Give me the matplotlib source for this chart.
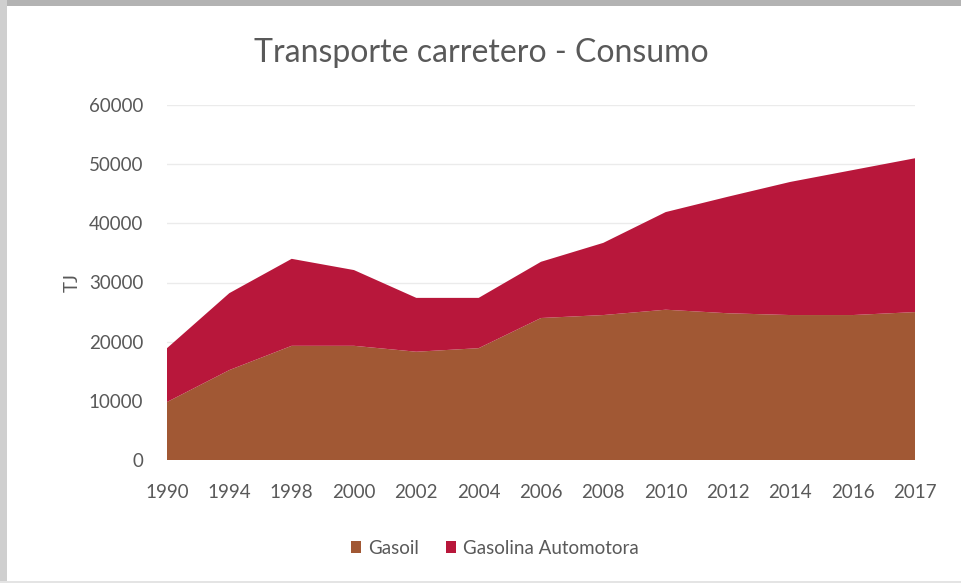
import matplotlib
matplotlib.use("Agg")
import matplotlib.pyplot as plt
from matplotlib.patches import Rectangle
import numpy as np

years = ['1990', '1994', '1998', '2000', '2002', '2004', '2006',
         '2008', '2010', '2012', '2014', '2016', '2017']
gasoil = [9800, 15200, 19300, 19300, 18300, 18900, 24000,
          24500, 25400, 24800, 24500, 24500, 25000]
gasolina = [9100, 13000, 14700, 12800, 9100, 8500, 9500,
            12200, 16500, 19700, 22500, 24500, 26000]

plt.rcParams['font.family'] = ['Lato', 'DejaVu Sans']

fig = plt.figure(figsize=(9.62, 5.83), dpi=100)
fig.patch.set_facecolor('white')
# frame bands like the screenshot edges
fig.add_artist(Rectangle((0, 1 - 6/583), 1, 6/583, transform=fig.transFigure,
                         facecolor='#b3b3b3', edgecolor='none', zorder=-5))
fig.add_artist(Rectangle((0, 0), 7/962, 1, transform=fig.transFigure,
                         facecolor='#cfcfcf', edgecolor='none', zorder=-5))
fig.add_artist(Rectangle((0, 0), 1, 2/583, transform=fig.transFigure,
                         facecolor='#e4e4e4', edgecolor='none', zorder=-5))

ax = fig.add_axes([167/962, 1 - 460/583, (915 - 167)/962, (460 - 105)/583])
ax.set_zorder(2)
ax.set_facecolor('white')
x = np.arange(len(years))
ax.stackplot(x, gasoil, gasolina, colors=['#A15834', '#B8173B'],
             labels=['Gasoil', 'Gasolina Automotora'], zorder=2)

ax.set_xlim(0, len(years) - 1)
ax.set_ylim(0, 60000)
ax.set_yticks(np.arange(0, 60001, 10000))
ax.set_xticks(x)
ax.set_xticklabels(years)
ax.yaxis.grid(True, color='#ebebeb', linewidth=1, zorder=0)
ax.set_axisbelow(True)
for s in ax.spines.values():
    s.set_visible(False)
ax.tick_params(axis='both', length=0, colors='#595959', labelsize=13.5)
ax.tick_params(axis='x', pad=17)
ax.tick_params(axis='y', pad=17)
ax.set_ylabel('TJ', color='#595959', fontsize=13.5, labelpad=6)

fig.text(0.5, 1 - 53/583, 'Transporte carretero - Consumo', ha='center', va='center',
         fontsize=23, color='#595959')

leg = ax.legend(loc='center', bbox_to_anchor=(495/962, 1 - 548/583),
                bbox_transform=fig.transFigure, ncol=2, frameon=False,
                fontsize=13.5, handlelength=0.55, handleheight=0.55,
                columnspacing=1.4, handletextpad=0.4)
for t in leg.get_texts():
    t.set_color('#595959')

fig.savefig('out.png', dpi=100, facecolor=fig.get_facecolor())
